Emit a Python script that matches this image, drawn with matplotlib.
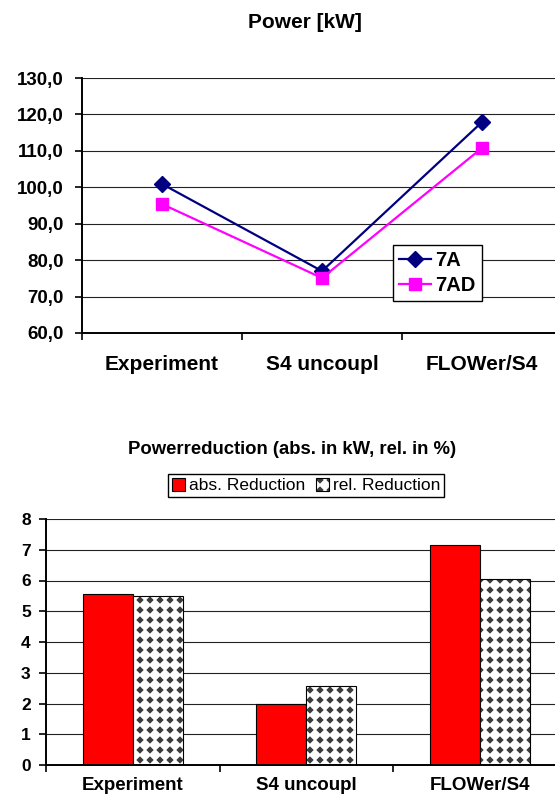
import numpy as np
import matplotlib
matplotlib.use("Agg")
import matplotlib.pyplot as plt
import matplotlib.hatch as mhatch
from matplotlib.path import Path
from matplotlib.legend_handler import HandlerTuple

plt.rcParams['font.family'] = ['Liberation Sans', 'DejaVu Sans']
plt.rcParams['hatch.linewidth'] = 1.0

# data
categories = ['Experiment', 'S4 uncoupl', 'FLOWer/S4']
power_7a = [100.9, 77.0, 117.9]
power_7ad = [95.4, 75.1, 110.8]
power_ticks = [60, 70, 80, 90, 100, 110, 120, 130]
abs_reduction = [5.55, 1.98, 7.15]
rel_reduction = [5.51, 2.58, 6.06]
red_ticks = [0, 1, 2, 3, 4, 5, 6, 7, 8]


class DiamondGrid(mhatch.HatchPatternBase):
    """'.' hatch drawn as a square grid of small filled diamonds."""

    def __init__(self, hatch, density):
        self.num_rows = hatch.count('.') * 5
        self.num_vertices = (self.num_rows + 1) ** 2 * 5 if self.num_rows else 0

    def set_vertices_and_codes(self, vertices, codes):
        step = 1.0 / self.num_rows
        r = 0.27 * step
        shape = np.array([[0, -r], [r, 0], [0, r], [-r, 0], [0, -r]])
        pos = np.arange(self.num_rows + 1) * step
        cx, cy = np.meshgrid(pos, pos)
        centers = np.column_stack([cx.ravel(), cy.ravel()])
        vertices[:] = (centers[:, None, :] + shape[None, :, :]).reshape(-1, 2)
        one = [Path.MOVETO, Path.LINETO, Path.LINETO, Path.LINETO, Path.CLOSEPOLY]
        codes[:] = np.tile(one, len(centers))


mhatch._hatch_types[mhatch._hatch_types.index(mhatch.SmallFilledCircles)] = DiamondGrid

fig = plt.figure(figsize=(5.55, 8.02), dpi=100)
x = np.arange(len(categories))


def category_axis(ax, pad, size):
    # labels sit between the boundary ticks
    ax.set_xticks(np.arange(len(categories)) - 0.5)
    ax.set_xticklabels([])
    ax.tick_params(axis='x', which='major', direction='out', length=5, width=1.2)
    ax.set_xticks(x, minor=True)
    ax.set_xticklabels(categories, minor=True, fontsize=size, fontweight='bold')
    ax.tick_params(axis='x', which='minor', length=0, pad=pad)
    for s in ['top', 'right']:
        ax.spines[s].set_visible(False)
    for s in ['left', 'bottom']:
        ax.spines[s].set_linewidth(1.4)
    ax.set_axisbelow(True)
    ax.yaxis.grid(True, color='#222222', linewidth=0.8)
    ax.tick_params(axis='y', direction='out', length=5, width=1.2)


# ---- power lines ----
ax1 = fig.add_axes([82 / 555, 1 - 333 / 802, 1 - 82 / 555, 255 / 802])
ax1.plot(x, power_7a, color='#000080', marker='D', markersize=8.5, linewidth=1.6, label='7A')
ax1.plot(x, power_7ad, color='#FF00FF', marker='s', markersize=9, linewidth=1.6, label='7AD')
ax1.set_xlim(-0.5, -0.5 + (555 - 82) / 160)
ax1.set_ylim(60, 130)
ax1.set_yticks(power_ticks)
ax1.set_yticklabels([f"{v:.1f}".replace('.', ',') for v in power_ticks],
                    fontsize=13.5, fontweight='bold')
ax1.tick_params(axis='y', pad=8)
category_axis(ax1, pad=16, size=15)
ax1.legend(loc='upper left', bbox_to_anchor=(393 / 555, 1 - 245 / 802),
           bbox_transform=fig.transFigure, fancybox=False, edgecolor='black',
           framealpha=1, prop={'weight': 'bold', 'size': 14.5},
           handlelength=1.6, handletextpad=0.2, borderpad=0.3, labelspacing=0.3,
           borderaxespad=0)
fig.text(305 / 555, 1 - 23 / 802, 'Power [kW]', ha='center', va='center',
         fontsize=15, fontweight='bold')

# ---- power reduction bars ----
ax2 = fig.add_axes([46 / 555, 1 - 765 / 802, 1 - 46 / 555, 246 / 802])
w = 0.288
b_abs = ax2.bar(x - w / 2, abs_reduction, w, color='#FF0000', edgecolor='black',
                linewidth=0.8, label='abs. Reduction')
b_rel = ax2.bar(x + w / 2, rel_reduction, w, color='white', edgecolor='#3a3a3a',
                hatch='..', linewidth=0)
b_rel_edge = ax2.bar(x + w / 2, rel_reduction, w, fill=False, edgecolor='black',
                     linewidth=0.8)
ax2.set_xlim(-0.5, -0.5 + (555 - 46) / 173.5)
ax2.set_ylim(0, 8)
ax2.set_yticks(red_ticks)
ax2.set_yticklabels([str(v) for v in red_ticks], fontsize=12.5, fontweight='bold')
ax2.tick_params(axis='y', pad=6)
category_axis(ax2, pad=9, size=13.5)
ax2.legend([b_abs, (b_rel, b_rel_edge)], ['abs. Reduction', 'rel. Reduction'],
           handler_map={tuple: HandlerTuple(ndivide=1, pad=0)},
           loc='center', bbox_to_anchor=(306 / 555, 1 - 485.5 / 802),
           bbox_transform=fig.transFigure, ncol=2, fancybox=False,
           edgecolor='black', framealpha=1, fontsize=12.5,
           handlelength=0.75, handleheight=0.75, handletextpad=0.25,
           columnspacing=0.6, borderpad=0.22, borderaxespad=0)
fig.text(292 / 555, 1 - 449 / 802, 'Powerreduction (abs. in kW, rel. in %)',
         ha='center', va='center', fontsize=13.3, fontweight='bold')

fig.savefig('out.png', dpi=100)
